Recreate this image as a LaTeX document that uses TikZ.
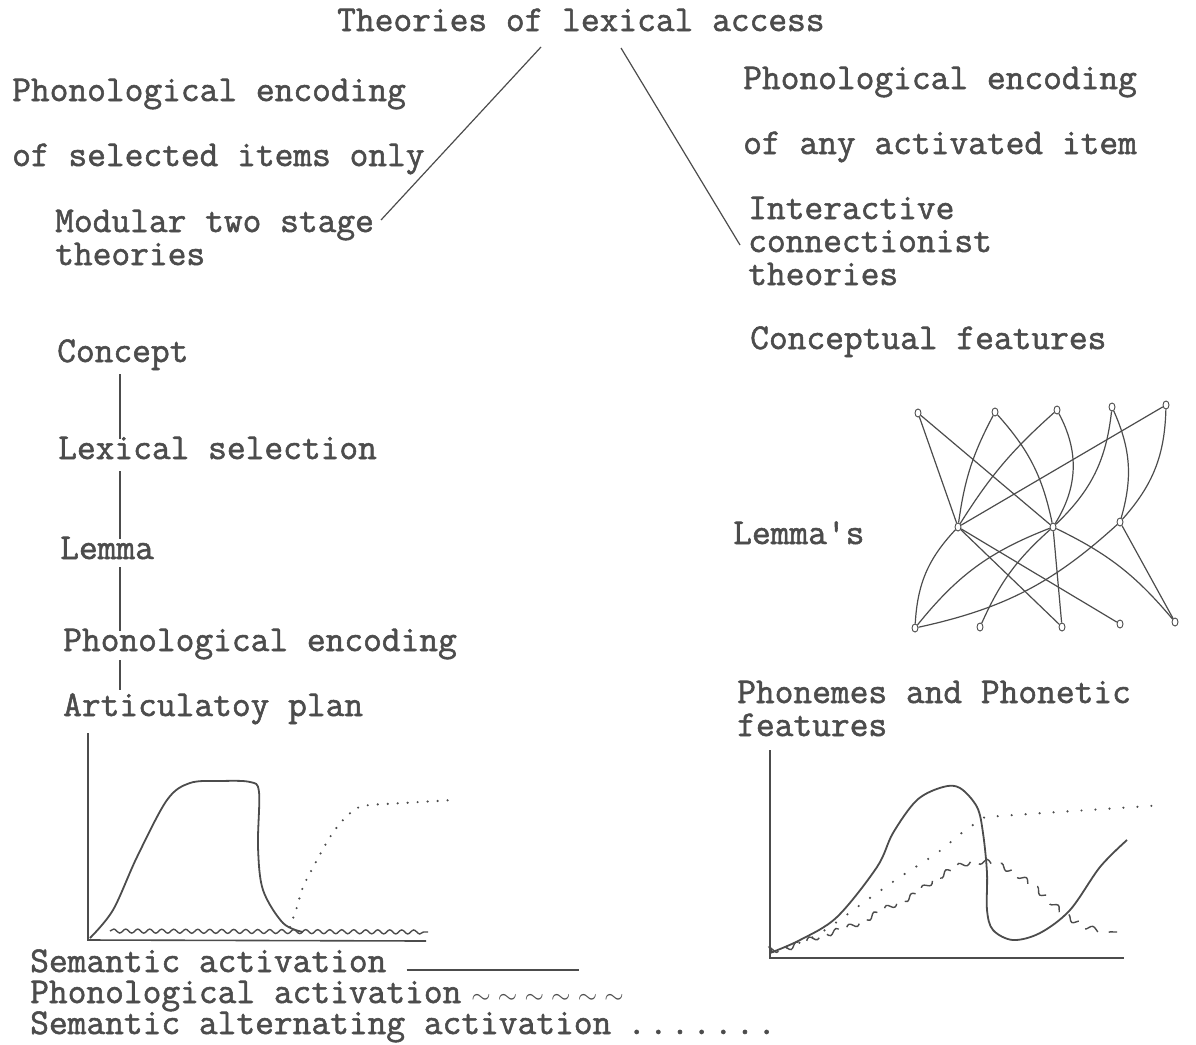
\documentclass[tikz,border=0pt]{standalone}
\usepackage{fontspec}
\newfontfamily\typer{Latin Modern Mono}[FakeBold=1.5]
\usetikzlibrary{shapes.geometric,decorations.pathmorphing}
\definecolor{ink}{gray}{0.3}
\tikzset{
  lbl/.style={anchor=base west,inner sep=0pt,text=ink,align=left,
    font=\typer\fontsize{36.4}{33}\selectfont},
  unit/.style={ellipse,draw=ink,line width=0.9pt,minimum width=6pt,
    minimum height=8pt,inner sep=0pt},
  link/.style={draw=ink,line width=1.2pt},
  stem/.style={draw=ink,line width=1.4pt,shorten <=12pt,shorten >=20pt},
  curve/.style={draw=ink,line width=1.8pt},
  wavy/.style={draw=ink,line width=1.4pt,decorate,
    decoration={snake,amplitude=2pt,segment length=12pt}},
  dots/.style={draw=ink,line width=2.4pt,line cap=round,
    dash pattern=on 0pt off 14pt},
}
\begin{document}
\begin{tikzpicture}[x=1pt,y=-1pt]
\useasboundingbox (0,0) rectangle (1196,1044);

% headings
\node[lbl] (title) at (337,31) {Theories of lexical access};
\node[lbl] (selA) at (12,101) {Phonological encoding};
\node[lbl] (selB) at (12,166) {of selected items only};
\node[lbl] (modular) at (55,265) {Modular two stage\\theories};
\node[lbl] (actA) at (743,89) {Phonological encoding};
\node[lbl] (actB) at (743,154) {of any activated item};
\node[lbl] (interactive) at (748,285) {Interactive\\connectionist\\theories};

\draw[link] ([shift={(204,16)}]title.base west) -- ([shift={(326,-45)}]modular.base west);
\draw[link] ([shift={(284,17)}]title.base west) -- ([shift={(-8,-40)}]interactive.base west);

% two stage chain
\coordinate (spine) at (120,0);
\node[lbl] (concept) at (57,362) {Concept};
\node[lbl] (lexsel) at (58,459) {Lexical selection};
\node[lbl] (lemma) at (60,559) {Lemma};
\node[lbl] (phonenc) at (63,651) {Phonological encoding};
\node[lbl] (artplan) at (63,716) {Articulatoy plan};

\draw[stem] (concept.base -| spine) -- (lexsel.base -| spine);
\draw[stem] (lexsel.base -| spine) -- (lemma.base -| spine);
\draw[stem,shorten <=8pt] (lemma.base -| spine) -- (phonenc.base -| spine);
\draw[stem,shorten <=9pt,shorten >=26pt] (phonenc.base -| spine) -- (artplan.base -| spine);

% connectionist network
\node[lbl] (concfeat) at (750,349) {Conceptual features};
\node[lbl] (lemmas) at (733,544) {Lemma\textquotesingle s};
\node[lbl] (phonemes) at (737,736) {Phonemes and Phonetic\\features};

\foreach \x/\y [count=\i] in {918/413,995/412,1057/410,1112/407,1166/405}
  \node[unit] (t\i) at (\x,\y) {};
\foreach \x/\y [count=\i] in {958/527,1053/527,1120/522}
  \node[unit] (m\i) at (\x,\y) {};
\foreach \x/\y [count=\i] in {915/628,980/627,1062/627,1120/624,1175/622}
  \node[unit] (b\i) at (\x,\y) {};

\draw[link] (t1) -- (m1);
\draw[link] (t1) -- (m2);
\draw[link] (t2) to[bend right=10] (m1);
\draw[link] (t2) to[bend left=15] (m2);
\draw[link] (t3) to[bend right=8] (m1);
\draw[link] (t3) to[bend left=30] (m2);
\draw[link] (t4) to[bend left=20] (m2);
\draw[link] (t4) to[bend left=20] (m3);
\draw[link] (t5) -- (m1);
\draw[link] (t5) to[bend left=20] (m3);
\draw[link] (m1) to[bend right=20] (b1);
\draw[link] (m1) -- (b3);
\draw[link] (m1) -- (b4);
\draw[link] (m2) to[bend right=15] (b1);
\draw[link] (m2) to[bend right=12] (b2);
\draw[link] (m2) -- (b3);
\draw[link] (m2) to[bend left=12] (b5);
\draw[link] (m3) to[bend left=15] (b1);
\draw[link] (m3) -- (b5);

% left activation graph
\draw[link,line width=1.6pt] (88,733) -- (88,940) -- (426,941);
\draw[curve] plot[smooth,tension=0.55] coordinates {(90,938) (113,910) (137,857) (167,800)
  (190,783) (220,781) (250,782) (259,792) (258,847) (263,890) (283,923) (303,932)};
\draw[wavy] (110,931) -- (428,932);
\draw[dots,dash pattern=on 0pt off 10pt] plot[smooth] coordinates {(290,927) (297,907) (303,887)
  (317,860) (330,837) (343,820) (357,808) (370,805) (403,803) (453,800)};

% right activation graph
\draw[link,line width=1.6pt] (770,750) -- (770,958) -- (1124,958);
\draw[curve] plot[smooth,tension=0.55] coordinates {(770,953) (800,940) (837,917) (877,867)
  (893,833) (917,800) (943,787) (960,788) (977,807) (983,833) (987,873) (987,910)
  (993,930) (1013,940) (1040,933) (1070,910) (1100,867) (1127,840)};
\draw[dots] plot[smooth] coordinates {(773,952) (817,935) (867,900) (900,877) (937,853)
  (963,832) (983,819) (1000,816) (1165,805)};
\draw[wavy,decoration={amplitude=2.6pt,segment length=14pt},dash pattern=on 16pt off 11pt]
  plot[smooth] coordinates {(772,952) (790,950)
  (817,940) (857,927) (890,910) (917,897) (940,880) (970,865) (997,865) (1023,878)
  (1047,897) (1070,918) (1093,930) (1117,932)};

% legend
\node[lbl] (legsem) at (30,972) {Semantic activation};
\draw[link] ([shift={(20,-2)}]legsem.base east) -- ++(172,0);
\node[lbl] (legphon) at (30,1003) {Phonological activation\hspace{10pt}\foreach \k in {1,...,6}{$\sim$\hspace{0.2em}}};
\node[lbl] (legalt) at (30,1034) {Semantic alternating activation\hspace{16pt}\foreach \k in {1,...,7}{.\hspace{0.08em}}};
\end{tikzpicture}
\end{document}
